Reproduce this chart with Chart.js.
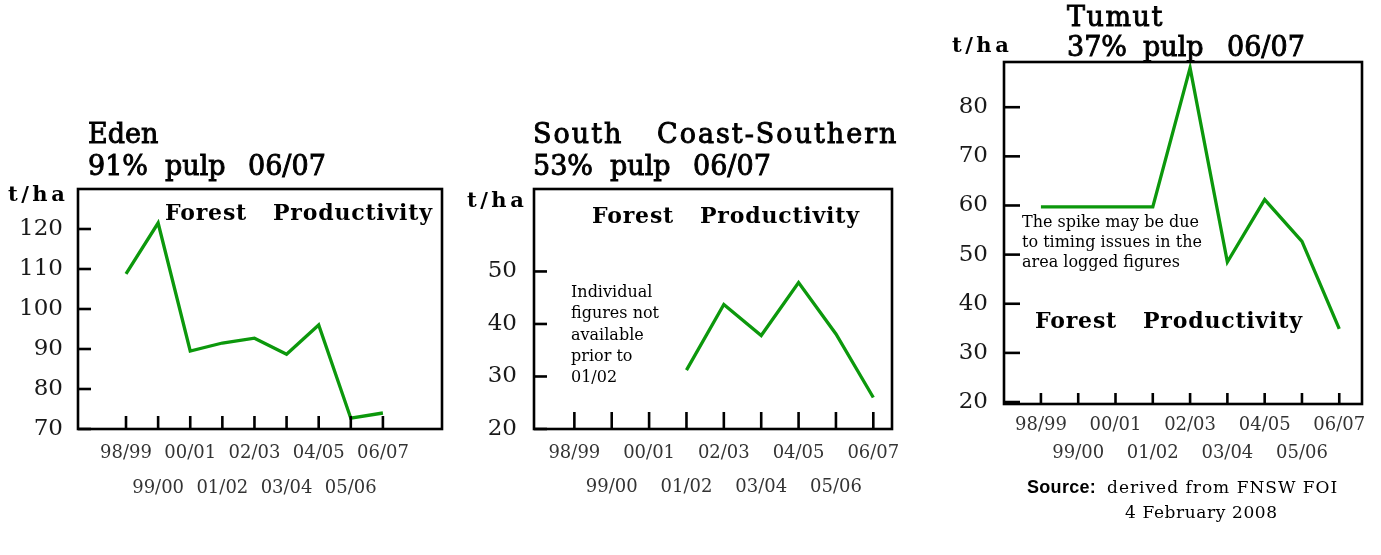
<!DOCTYPE html>
<html><head><meta charset="utf-8">
<script src="https://cdn.jsdelivr.net/npm/chart.js@4.4.1/dist/chart.umd.min.js"></script>
<style>
html,body{margin:0;padding:0;background:#fff;width:1381px;height:555px;overflow:hidden}
canvas{position:absolute;left:0;top:0}
</style></head><body>
<canvas id="c1" width="1381" height="555"></canvas>
<canvas id="c2" width="1381" height="555"></canvas>
<canvas id="c3" width="1381" height="555"></canvas>
<script>
// ---- data ----
const categories = ['98/99','99/00','00/01','01/02','02/03','03/04','04/05','05/06','06/07'];
const edenValues = [108.8, 121.5, 89.5, 91.5, 92.7, 88.7, 96.0, 72.7, 74.0];
const southCoastValues = [null, null, null, 31.2, 43.7, 37.8, 47.9, 38.1, 26.0];
const tumutValues = [59.7, 59.7, 59.7, 59.7, 88.0, 48.5, 61.2, 52.7, 34.9];
const edenTicks = [70, 80, 90, 100, 110, 120];
const southCoastTicks = [20, 30, 40, 50];
const tumutTicks = [20, 30, 40, 50, 60, 70, 80];

Chart.defaults.font.family = "'DejaVu Serif', serif";
const SERIF = "'DejaVu Serif', serif";
const W = 1381, H = 555, YW = 70, XH = 80;

function T(t, x, y, font, opts) { return Object.assign({t, x, y, font}, opts || {}); }
const titleFont = '27px ' + SERIF;
const unitFont = 'bold 21px ' + SERIF;
const fpFont = 'bold 22px ' + SERIF;
const TS = {stroke: 0.9};
const TSW = {stroke: 0.9, ls: 2};
const TSM = {stroke: 0.9, ls: 1.5};
const UN = {ls: 3.5};
const FP = {ls: 0.8};

const panels = [
  { id: 'c1', values: edenValues, yTicks: edenTicks, yMin: 70, yMax: 130, xMin: -1.495, xMax: 9.84,
    area: {left: 78, top: 189, right: 442, bottom: 429}, yPad: 15, xLine: 35, xPad: 7, yTickLen: 13, xTickLen: 13,
    texts: [
      T('Eden', 88, 143, titleFont, TS),
      T('91%', 88, 175, titleFont, TS), T('pulp', 165, 175, titleFont, TS), T('06/07', 248, 175, titleFont, TS),
      T('t/ha', 8, 201, unitFont, UN),
      T('Forest', 165, 220, fpFont, FP), T('Productivity', 273, 220, fpFont, FP)
    ]},
  { id: 'c2', values: southCoastValues, yTicks: southCoastTicks, yMin: 20, yMax: 65.7, xMin: -1.08, xMax: 8.5,
    area: {left: 534, top: 189, right: 892, bottom: 429}, yPad: 17, xLine: 34, xPad: 7, yTickLen: 13, xTickLen: 17,
    texts: [
      T('South', 533, 143, titleFont, TSW), T('Coast-Southern', 657, 143, titleFont, TSW),
      T('53%', 533, 175, titleFont, TS), T('pulp', 610, 175, titleFont, TS), T('06/07', 693, 175, titleFont, TS),
      T('t/ha', 467, 207, unitFont, UN),
      T('Forest', 592, 223, fpFont, FP), T('Productivity', 700, 223, fpFont, FP),
      T('Individual', 571, 297, '16px ' + SERIF), T('figures not', 571, 318, '16px ' + SERIF),
      T('available', 571, 340, '16px ' + SERIF), T('prior to', 571, 361, '16px ' + SERIF),
      T('01/02', 571, 382, '16px ' + SERIF)
    ]},
  { id: 'c3', values: tumutValues, yTicks: tumutTicks, yMin: 19.6, yMax: 89.2, xMin: -0.99, xMax: 8.61,
    area: {left: 1004, top: 62, right: 1362, bottom: 404}, yPad: 16, xLine: 28, xPad: 7, yTickLen: 16, xTickLen: 11,
    texts: [
      T('Tumut', 1067, 26, titleFont, TSM),
      T('37%', 1067, 56, titleFont, TS), T('pulp', 1143, 56, titleFont, TS), T('06/07', 1227, 56, titleFont, TS),
      T('t/ha', 952, 52, unitFont, UN),
      T('The spike may be due', 1022, 227, '16px ' + SERIF),
      T('to timing issues in the', 1022, 247, '16px ' + SERIF),
      T('area logged figures', 1022, 267, '16px ' + SERIF),
      T('Forest', 1035, 328, fpFont, FP), T('Productivity', 1143, 328, fpFont, FP),
      T('Source:', 1027, 493, "bold 18px 'Liberation Sans', sans-serif", {ls: 0.3}),
      T('derived from FNSW FOI', 1107, 493, '17px ' + SERIF, {ls: 1.0}),
      T('4 February 2008', 1125, 518, '17px ' + SERIF, {ls: 0.6})
    ]}
];

const framePlugin = {
  id: 'frame',
  afterDraw(chart, args, opts) {
    const ctx = chart.ctx, a = chart.chartArea;
    const xs = chart.scales.x, ys = chart.scales.y;
    ctx.save();
    ctx.strokeStyle = '#000';
    ctx.lineWidth = 2.6;
    ctx.strokeRect(a.left, a.top, a.right - a.left, a.bottom - a.top);
    ys.ticks.forEach(tk => {
      const y = ys.getPixelForValue(tk.value);
      ctx.beginPath(); ctx.moveTo(a.left, y); ctx.lineTo(a.left + opts.yTickLen, y); ctx.stroke();
    });
    xs.ticks.forEach(tk => {
      const x = xs.getPixelForValue(tk.value);
      ctx.beginPath(); ctx.moveTo(x, a.bottom); ctx.lineTo(x, a.bottom - opts.xTickLen); ctx.stroke();
    });
    ctx.fillStyle = '#000';
    ctx.textBaseline = 'alphabetic';
    ctx.textAlign = 'left';
    opts.texts.forEach(o => {
      ctx.font = o.font;
      if ('letterSpacing' in ctx) ctx.letterSpacing = (o.ls || 0) + 'px';
      ctx.fillText(o.t, o.x, o.y);
      if (o.stroke) { ctx.lineWidth = o.stroke; ctx.strokeText(o.t, o.x, o.y); }
    });
    if ('letterSpacing' in ctx) ctx.letterSpacing = '0px';
    ctx.restore();
  }
};

panels.forEach(p => {
  new Chart(document.getElementById(p.id), {
    type: 'line',
    data: {
      datasets: [{
        data: p.values.map((v, i) => ({x: i, y: v})),
        borderColor: '#0c980c',
        borderWidth: 3.3,
        pointRadius: 0,
        tension: 0,
        borderJoinStyle: 'miter',
        spanGaps: false
      }]
    },
    options: {
      responsive: false,
      animation: false,
      devicePixelRatio: 1,
      layout: { padding: {
        left: p.area.left - YW, top: p.area.top,
        right: W - p.area.right, bottom: H - p.area.bottom - XH } },
      plugins: {
        legend: {display: false}, tooltip: {enabled: false}, title: {display: false},
        frame: { texts: p.texts, yTickLen: p.yTickLen, xTickLen: p.xTickLen }
      },
      scales: {
        x: {
          type: 'linear', min: p.xMin, max: p.xMax,
          grid: {display: false, drawTicks: false}, border: {display: false},
          afterBuildTicks: s => { s.ticks = categories.map((c, i) => ({value: i})); },
          afterFit: s => { s.height = XH; },
          ticks: {
            autoSkip: false, maxRotation: 0, padding: p.xPad, color: '#333',
            font: {size: 18, lineHeight: p.xLine + 'px'},
            callback: v => (v % 2 === 0 ? categories[v] : ['', categories[v]])
          }
        },
        y: {
          type: 'linear', min: p.yMin, max: p.yMax,
          grid: {display: false, drawTicks: false}, border: {display: false},
          afterBuildTicks: s => { s.ticks = p.yTicks.map(v => ({value: v})); },
          afterFit: s => { s.width = YW; },
          ticks: { padding: p.yPad, color: '#1a1a1a', font: {size: 23}, callback: v => String(v) }
        }
      }
    },
    plugins: [framePlugin]
  });
});
</script>
</body></html>
